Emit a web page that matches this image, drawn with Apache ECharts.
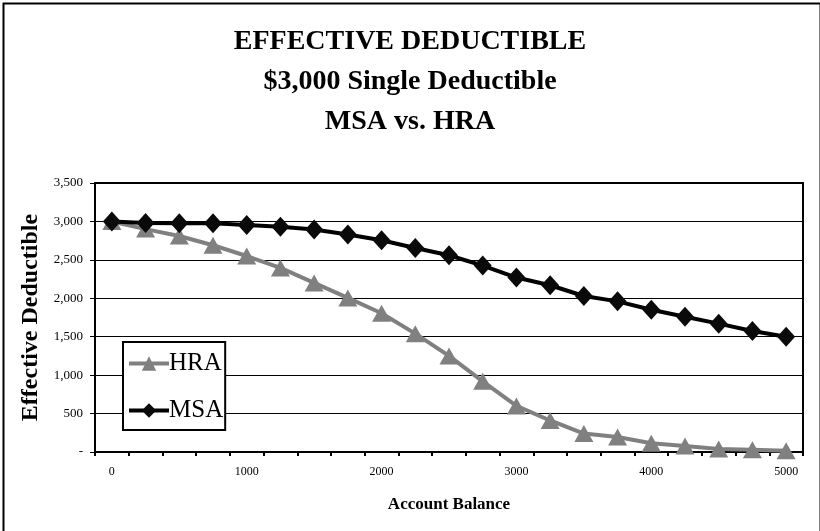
<!DOCTYPE html>
<html>
<head>
<meta charset="utf-8">
<script src="https://cdn.jsdelivr.net/npm/echarts@6/dist/echarts.min.js"></script>
<style>html,body{margin:0;padding:0;background:#fff;}#c{width:820px;height:531px;}</style>
</head>
<body>
<div id="c"></div>
<script>
var titleLines = ['EFFECTIVE DEDUCTIBLE', '$3,000 Single Deductible', 'MSA vs. HRA'];
var categories = ['0','250','500','750','1000','1250','1500','1750','2000','2250','2500','2750','3000','3250','3500','3750','4000','4250','4500','4750','5000'];
var hraValues = [3000, 2900, 2810, 2690, 2550, 2395, 2200, 2005, 1805, 1540, 1250, 920, 600, 410, 240, 195, 115, 78, 39, 30, 15];
var msaValues = [3000, 2980, 2975, 2975, 2955, 2930, 2895, 2830, 2755, 2655, 2560, 2425, 2270, 2170, 2030, 1960, 1850, 1760, 1670, 1575, 1500];
var yAxisName = 'Effective Deductible';
var xAxisName = 'Account Balance';

var serif = '"Liberation Serif","Times New Roman",serif';
var chart = echarts.init(document.getElementById('c'), null, {renderer: 'canvas'});
chart.setOption({
  animation: false,
  backgroundColor: '#fff',
  title: {
    text: titleLines.join('\n'),
    left: 'center',
    top: 22,
    padding: 0,
    textStyle: {fontFamily: serif, fontWeight: 'bold', fontSize: 28, lineHeight: 40, color: '#000'}
  },
  graphic: [{
    type: 'rect', left: 1, top: 1, silent: true,
    shape: {x: 0, y: 0, width: 817, height: 560},
    style: {fill: null, stroke: '#000', lineWidth: 2}
  }],
  grid: {left: 95, right: 17, top: 183, bottom: 79, show: true, borderColor: '#000', borderWidth: 2, backgroundColor: 'transparent'},
  legend: {
    orient: 'vertical',
    left: 123, top: 342,
    width: 100,
    backgroundColor: '#fff',
    borderColor: '#000', borderWidth: 2,
    padding: [9, 2, 7, 4],
    itemGap: 22,
    itemWidth: 40, itemHeight: 18,
    lineStyle: {width: 4},
    textStyle: {fontFamily: serif, fontSize: 25, color: '#000', padding: [0, 0, 0, -5]},
    data: ['HRA', 'MSA']
  },
  xAxis: {
    type: 'category',
    data: categories,
    boundaryGap: true,
    name: xAxisName,
    nameLocation: 'middle',
    nameGap: 44,
    nameTextStyle: {fontFamily: serif, fontWeight: 'bold', fontSize: 17, color: '#000'},
    axisLine: {lineStyle: {color: '#000', width: 2}},
    axisTick: {show: true, interval: 0, length: 4, lineStyle: {color: '#000', width: 2}},
    axisLabel: {interval: 3, margin: 14, fontFamily: serif, fontSize: 12, color: '#000'},
    splitLine: {show: false}
  },
  yAxis: {
    type: 'value',
    min: 0, max: 3500, interval: 500,
    name: yAxisName,
    nameLocation: 'middle',
    nameGap: 50,
    nameTextStyle: {fontFamily: serif, fontWeight: 'bold', fontSize: 24, color: '#000'},
    axisLine: {show: true, lineStyle: {color: '#000', width: 2}},
    axisTick: {show: true, length: 5, lineStyle: {color: '#000', width: 1}},
    axisLabel: {
      margin: 12, fontFamily: serif, fontSize: 13, color: '#000',
      formatter: function (v) { return v === 0 ? '-' : v.toLocaleString('en-US'); }
    },
    splitLine: {show: true, lineStyle: {color: '#000', width: 1}}
  },
  series: [
    {
      name: 'HRA', type: 'line', data: hraValues,
      symbol: 'triangle', symbolSize: [19, 17],
      lineStyle: {color: '#808080', width: 4},
      itemStyle: {color: '#808080'},
      z: 2
    },
    {
      name: 'MSA', type: 'line', data: msaValues,
      symbol: 'diamond', symbolSize: [18, 20],
      lineStyle: {color: '#000', width: 4},
      itemStyle: {color: '#0a0a0a'},
      z: 3
    }
  ]
});
</script>
</body>
</html>
